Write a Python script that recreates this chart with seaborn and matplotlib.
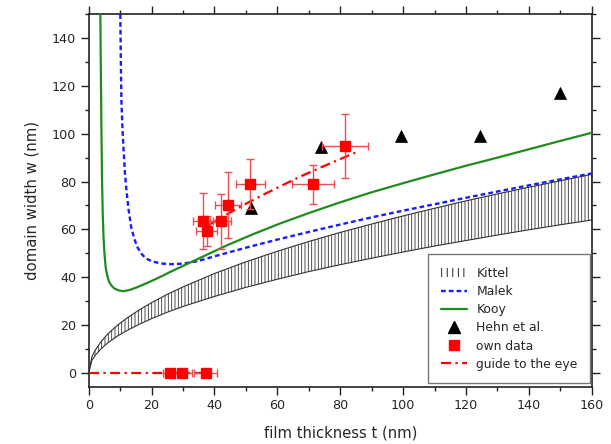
import numpy as np
import pandas as pd
import matplotlib
matplotlib.use("Agg")
import matplotlib.pyplot as plt
from matplotlib.patches import Patch
from matplotlib.lines import Line2D
from matplotlib.ticker import MultipleLocator
import seaborn as sns

# ---- Kittel band (upper / lower boundary) ----
kittel_t = [0, 1, 2, 4, 6, 9, 12, 16, 20, 25, 30, 40, 50, 60, 70, 80, 90,
            100, 110, 120, 130, 140, 150, 160]
kittel_upper = [0, 6.6, 9.3, 13.1, 16.1, 19.7, 22.7, 26.2, 29.3, 32.8, 35.9,
                41.5, 46.4, 50.8, 54.9, 58.7, 62.2, 65.6, 68.8, 71.9, 74.8,
                77.6, 80.3, 83.0]
kittel_lower = [0, 5.1, 7.1, 10.1, 12.4, 15.2, 17.5, 20.2, 22.6, 25.3, 27.7,
                31.9, 35.7, 39.1, 42.3, 45.2, 47.9, 50.5, 53.0, 55.3, 57.6,
                59.8, 61.9, 63.9]

# ---- Malek model ----
malek_t = [10.05, 10.2, 10.4, 10.7, 11.1, 11.5, 12.0, 12.7, 13.5, 14.5, 15.5,
           16.7, 18, 20, 23, 26, 30, 35, 40, 50, 60, 70, 80, 90, 100, 110,
           120, 130, 140, 150, 160]
malek_w = [150, 132, 114, 103, 93, 84, 76.3, 68, 61, 56, 52.5, 49.9, 48.0,
           46.6, 45.7, 45.4, 45.6, 46.8, 48.7, 52.3, 55.7, 58.9, 62.0, 65.0,
           67.8, 70.5, 73.2, 75.8, 78.4, 80.9, 83.4]

# ---- Kooy model ----
kooy_t = [3.7, 3.8, 3.9, 4.0, 4.1, 4.25, 4.45, 4.7, 5.0, 5.4, 5.9, 6.5, 7.3,
          8.3, 9.6, 11, 13, 15.5, 18.5, 22, 26, 31, 37, 44, 52, 61, 70, 80,
          90, 100, 110, 120, 130, 140, 150, 160]
kooy_w = [150, 135, 120, 108, 95, 80, 67, 57, 50, 44, 40.5, 38, 36.3, 35.1,
          34.4, 34.1, 34.6, 35.8, 37.5, 39.6, 42.2, 45.3, 49.0, 53.3, 57.8,
          62.5, 66.8, 71.3, 75.5, 79.3, 83.0, 86.6, 90.0, 93.5, 97.0, 100.4]

# ---- Hehn et al. ----
hehn_t = [51.5, 73.9, 99.3, 124.6, 150.0]
hehn_w = [69.1, 94.5, 99.0, 99.0, 117.0]

# ---- own data (domain width with errors) ----
own_t = [36.3, 37.5, 42.0, 44.2, 51.4, 71.4, 81.5]
own_w = [63.4, 59.2, 63.4, 70.1, 79.1, 78.9, 94.9]
own_terr = [3.2, 3.4, 3.4, 4.1, 4.6, 6.7, 7.4]
own_werr = [11.8, 6.3, 11.5, 13.8, 10.4, 8.2, 13.4]

# ---- own data without domains (w = 0) ----
zero_t = [25.9, 29.8, 37.2]
zero_w = [0, 0, 0]
zero_terr = [2.4, 3.0, 3.6]

# ---- guide to the eye ----
guide_t = [38, 44, 50, 56, 62, 68, 74, 80, 85]
guide_w = [61.6, 66.3, 70.7, 74.8, 78.7, 82.5, 86.0, 89.4, 92.2]
guide0_t = [0, 38]
guide0_w = [0, 0]

sns.set_theme(style="ticks")
plt.rcParams["font.family"] = ["DejaVu Sans"]
plt.rcParams["hatch.linewidth"] = 0.6

fig = plt.figure(figsize=(6.11, 4.44), dpi=100)
ax = fig.add_axes([0.1452, 0.1295, 0.8232, 0.8383])

RED = "#ff0000"
BLUE = "#1a1aff"
GREEN = "#1e8c1e"

# Kittel band
ax.fill_between(kittel_t, kittel_lower, kittel_upper, facecolor="white",
                edgecolor="#333333", hatch="|||||", linewidth=0, zorder=1)
sns.lineplot(x=kittel_t, y=kittel_upper, ax=ax, color="#333333", lw=0.8,
             estimator=None, zorder=2)
sns.lineplot(x=kittel_t, y=kittel_lower, ax=ax, color="#333333", lw=0.8,
             estimator=None, zorder=2)

# Malek and Kooy curves
sns.lineplot(x=malek_t, y=malek_w, ax=ax, color=BLUE, lw=1.7,
             estimator=None, zorder=3)
ax.lines[-1].set_dashes((2.0, 1.3))
sns.lineplot(x=kooy_t, y=kooy_w, ax=ax, color=GREEN, lw=1.6,
             estimator=None, zorder=3)

# guide to the eye
sns.lineplot(x=guide_t, y=guide_w, ax=ax, color=RED, lw=1.6,
             estimator=None, zorder=4)
ax.lines[-1].set_dashes((4.5, 2, 1, 2))
sns.lineplot(x=guide0_t, y=guide0_w, ax=ax, color=RED, lw=1.6,
             estimator=None, zorder=4)
ax.lines[-1].set_dashes((4.5, 2, 1, 2))

# Hehn et al.
sns.scatterplot(x=hehn_t, y=hehn_w, ax=ax, marker="^", s=75, color="black",
                edgecolor="black", linewidth=0.5, zorder=5)

# own data
ax.errorbar(own_t, own_w, xerr=own_terr, yerr=own_werr, fmt="s", color=RED,
            ms=7, ecolor="#e85050", elinewidth=1.0, capsize=3.2, capthick=1.0,
            zorder=6)
ax.errorbar(zero_t, zero_w, xerr=zero_terr, fmt="s", color=RED,
            ms=7, ecolor="#e85050", elinewidth=1.0, capsize=3.2, capthick=1.0,
            zorder=6)

ax.set_xlim(0, 160)
ax.set_ylim(-5.8, 150)
ax.xaxis.set_major_locator(MultipleLocator(20))
ax.xaxis.set_minor_locator(MultipleLocator(10))
ax.yaxis.set_major_locator(MultipleLocator(20))
ax.yaxis.set_minor_locator(MultipleLocator(10))
ax.tick_params(which="both", direction="out", top=True, right=True,
               labeltop=False, labelright=False, color="#222222", width=1.0)
ax.tick_params(which="major", length=5.5, labelsize=9.2, pad=3.5)
ax.tick_params(which="minor", length=2.8)
for s in ax.spines.values():
    s.set_visible(True)
    s.set_linewidth(1.2)
    s.set_color("#222222")

ax.set_xlabel("film thickness t (nm)", fontsize=10.6, labelpad=10)
ax.set_ylabel("domain width w (nm)", fontsize=10.7, labelpad=9)

handles = [
    Patch(facecolor="white", edgecolor="black", hatch="|||", linewidth=0),
    Line2D([], [], color=BLUE, lw=1.7, dashes=(2.0, 1.3)),
    Line2D([], [], color=GREEN, lw=1.6),
    Line2D([], [], color="black", marker="^", ls="none", ms=8),
    Line2D([], [], color=RED, marker="s", ls="none", ms=7),
    Line2D([], [], color=RED, lw=1.6, dashes=(4.5, 2, 1, 2)),
]
labels = ["Kittel", "Malek", "Kooy", "Hehn et al.", "own data",
          "guide to the eye"]
leg = ax.legend(handles, labels, loc="lower right",
                bbox_to_anchor=(0.997, 0.009), borderaxespad=0,
                fontsize=8.9, frameon=True, fancybox=False, framealpha=1,
                edgecolor="#777777", handlelength=2.1, labelspacing=0.42,
                borderpad=1.0, handletextpad=0.8)
leg.get_frame().set_linewidth(1.0)

fig.savefig("out.png", dpi=100)
